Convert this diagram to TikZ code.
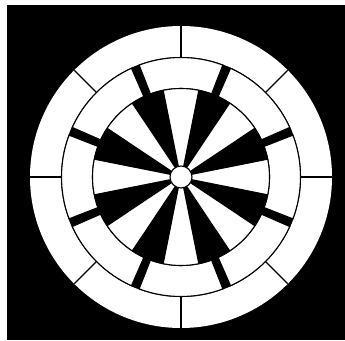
\documentclass[tikz,border=0pt]{standalone}
\begin{document}
\begin{tikzpicture}[x=1pt,y=1pt,
  ln/.style={line width=1.1pt, draw=black},
  seg/.style={fill=white, draw=black, line width=1.1pt, line join=miter}]
\useasboundingbox (0,0) rectangle (345,340);
\fill[white] (0,0) rectangle (345,340);
\fill[black] (7,0) rectangle (345,335);
\begin{scope}[shift={(181,163)}]
\coordinate (c) at (0,0);
\fill[white] (c) circle[radius=151];
\fill[black] (c) circle[radius=120];
\foreach \a in {0,45,...,315} {
  \draw[ln] (\a:119.5) -- (\a:150.8);
  \draw[seg] (\a-20.5:119.5) arc[start angle=\a-20.5, end angle=\a+20.5, radius=119.5]
     -- (\a+20.2:88.5) arc[start angle=\a+20.2, end angle=\a-20.2, radius=88.5] -- cycle;
}
\fill[white] (c) circle[radius=88.5];
\foreach \a in {22.5,67.5,...,337.5} {
  \fill[black] (c) -- (\a-11.25:88.5) arc[start angle=\a-11.25, end angle=\a+11.25, radius=88.5] -- cycle;
}
\draw[ln] (c) circle[radius=88.5];
\draw[ln, fill=white] (c) circle[radius=11];
\end{scope}
\end{tikzpicture}
\end{document}
